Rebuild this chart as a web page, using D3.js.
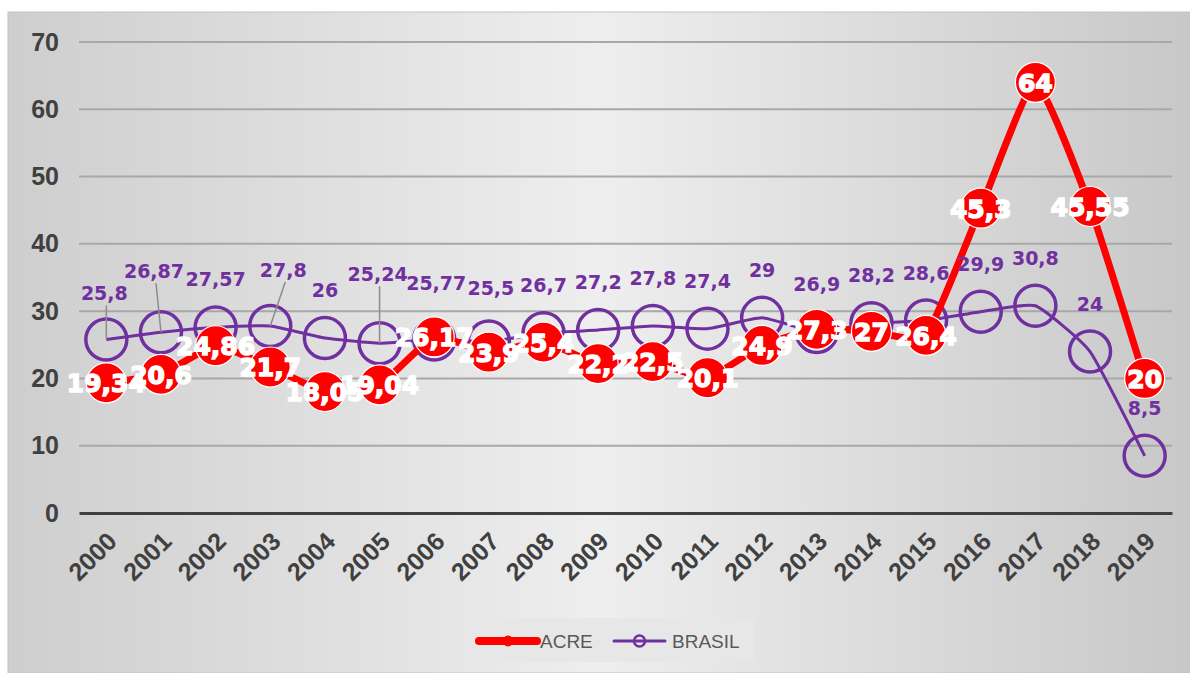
<!DOCTYPE html>
<html>
<head>
<meta charset="utf-8">
<script src="https://cdn.jsdelivr.net/npm/d3@7"></script>
<style>
  html, body { margin: 0; padding: 0; background: #ffffff; }
  svg { display: block; }
</style>
</head>
<body>
<svg id="chart" width="1190" height="673"></svg>
<script>
// Series data, 2000–2019
const years = ["2000","2001","2002","2003","2004","2005","2006","2007","2008","2009",
               "2010","2011","2012","2013","2014","2015","2016","2017","2018","2019"];
const acre = [19.34, 20.6, 24.86, 21.7, 18.05, 19.04, 26.17, 23.9, 25.4, 22.2,
              22.5, 20.1, 24.9, 27.3, 27, 26.4, 45.3, 64, 45.55, 20];
const brasil = [25.8, 26.87, 27.57, 27.8, 26, 25.24, 25.77, 25.5, 26.7, 27.2,
                27.8, 27.4, 29, 26.9, 28.2, 28.6, 29.9, 30.8, 24, 8.5];
const yTicks = [0, 10, 20, 30, 40, 50, 60, 70];
const seriesNames = ["ACRE", "BRASIL"];

// Label placement for the BRASIL series (offsets from the point, px); some use leader lines
const brasilLabelOffset = {
  0: { dx: -2, dy: -46, leader: true },
  1: { dx: -7, dy: -61, leader: true },
  3: { dx: 13, dy: -56, leader: true },
  5: { dx: -2, dy: -69, leader: true },
  6: { dx: 2, dy: -57 },
  7: { dx: 2, dy: -53 }
};

const svg = d3.select("#chart");
const W = 1190, H = 673;
const margin = { left: 79, right: 18, top: 42, bottom: 160 };
const plotRight = W - margin.right;
const plotBottom = H - margin.bottom;

const RED = "#ff0000";
const PURPLE = "#7030a0";

// Background gradient of the chart area
const defs = svg.append("defs");
const grad = defs.append("linearGradient").attr("id", "bg").attr("x1", "0").attr("x2", "1").attr("y1", "0").attr("y2", "0");
grad.append("stop").attr("offset", "0").attr("stop-color", "#cecece");
grad.append("stop").attr("offset", "0.5").attr("stop-color", "#eeeeee");
grad.append("stop").attr("offset", "1").attr("stop-color", "#c8c8c8");

svg.append("rect")
  .attr("x", 8).attr("y", 12).attr("width", W - 8).attr("height", H - 12)
  .attr("fill", "url(#bg)").attr("stroke", "#c4c4c4").attr("stroke-width", 1);

// Scales
const x = d3.scaleBand().domain(years).range([margin.left, plotRight]);
const cx = d => x(d) + x.bandwidth() / 2;
const y = d3.scaleLinear().domain([0, 70]).range([plotBottom, margin.top]);

// Gridlines
svg.append("g")
  .selectAll("line")
  .data(yTicks.filter(t => t > 0))
  .join("line")
  .attr("x1", margin.left).attr("x2", plotRight)
  .attr("y1", d => y(d)).attr("y2", d => y(d))
  .attr("stroke", "#a8a8a8").attr("stroke-width", 2);

// Y axis labels
const yAxis = d3.axisLeft(y).tickValues(yTicks).tickSize(0).tickPadding(20);
const yg = svg.append("g").attr("transform", `translate(${margin.left},0)`).call(yAxis);
yg.select(".domain").remove();
yg.selectAll("text")
  .attr("font-family", "'Liberation Sans', Arial, sans-serif")
  .attr("font-weight", "bold").attr("font-size", 25).attr("fill", "#404040");

// X axis line and rotated year labels
const xAxis = d3.axisBottom(x).tickSize(0).tickPadding(0);
const xg = svg.append("g").attr("transform", `translate(0,${plotBottom})`).call(xAxis);
xg.select(".domain").attr("stroke", "#404040").attr("stroke-width", 3);
xg.selectAll("text")
  .attr("font-family", "'Liberation Sans', Arial, sans-serif")
  .attr("font-weight", "bold").attr("font-size", 25).attr("fill", "#404040")
  .attr("text-anchor", "end").attr("dy", null)
  .attr("transform", "translate(12,30) rotate(-45)");

const line = d3.line().curve(d3.curveCardinal.tension(0.55));

// BRASIL series (line + hollow circle markers)
svg.append("path")
  .attr("d", line(years.map((yr, i) => [cx(yr), y(brasil[i])])))
  .attr("fill", "none").attr("stroke", PURPLE).attr("stroke-width", 3);
svg.append("g").selectAll("circle")
  .data(brasil)
  .join("circle")
  .attr("cx", (d, i) => cx(years[i])).attr("cy", d => y(d)).attr("r", 20.5)
  .attr("fill", "none").attr("stroke", PURPLE).attr("stroke-width", 3.5);

// ACRE series (thick line + filled markers)
svg.append("path")
  .attr("d", line(years.map((yr, i) => [cx(yr), y(acre[i])])))
  .attr("fill", "none").attr("stroke", RED).attr("stroke-width", 7).attr("stroke-linejoin", "round");
svg.append("g").selectAll("circle")
  .data(acre)
  .join("circle")
  .attr("cx", (d, i) => cx(years[i])).attr("cy", d => y(d)).attr("r", 20)
  .attr("fill", RED).attr("stroke", "#ffffff").attr("stroke-width", 1.2);

const fmt = v => String(v).replace(".", ",");

// BRASIL leader lines and labels
const bLabels = brasil.map((v, i) => {
  const o = brasilLabelOffset[i] || { dx: 0, dy: -48 };
  return { v, i, px: cx(years[i]), py: y(v), lx: cx(years[i]) + o.dx, ly: y(v) + o.dy, leader: !!o.leader };
});
svg.append("g").selectAll("line")
  .data(bLabels.filter(d => d.leader))
  .join("line")
  .attr("x1", d => d.lx + 2).attr("y1", d => d.ly + 12)
  .attr("x2", d => d.px).attr("y2", d => d.py)
  .attr("stroke", "#8c8c8c").attr("stroke-width", 1.5);
svg.append("g").selectAll("text")
  .data(bLabels)
  .join("text")
  .attr("x", d => d.lx).attr("y", d => d.ly)
  .attr("text-anchor", "middle").attr("dominant-baseline", "central")
  .attr("font-family", "'DejaVu Sans', Verdana, sans-serif")
  .attr("font-weight", "bold").attr("font-size", 19).attr("fill", PURPLE)
  .text(d => fmt(d.v));

// ACRE labels, centred on markers
svg.append("g").selectAll("text")
  .data(acre)
  .join("text")
  .attr("x", (d, i) => cx(years[i])).attr("y", d => y(d) + 1)
  .attr("text-anchor", "middle").attr("dominant-baseline", "central")
  .attr("font-family", "'DejaVu Sans', Verdana, sans-serif")
  .attr("font-weight", "bold").attr("font-size", 25).attr("fill", "#ffffff")
  .attr("stroke", "#ffffff").attr("stroke-width", 1.4)
  .text(d => fmt(d));

// Legend
const lg = svg.append("g");
lg.append("rect").attr("x", 458).attr("y", 618).attr("width", 297).attr("height", 44).attr("fill", "#e7e7e7");
const legendItems = [
  { name: seriesNames[0], x0: 479, x1: 537, color: RED, width: 8, filled: true, tx: 540 },
  { name: seriesNames[1], x0: 614, x1: 665, color: PURPLE, width: 3, filled: false, tx: 672 }
];
legendItems.forEach(it => {
  lg.append("line").attr("x1", it.x0).attr("x2", it.x1).attr("y1", 641).attr("y2", 641)
    .attr("stroke", it.color).attr("stroke-width", it.width).attr("stroke-linecap", "round");
  lg.append("circle").attr("cx", (it.x0 + it.x1) / 2).attr("cy", 641).attr("r", it.filled ? 5 : 5.5)
    .attr("fill", it.filled ? it.color : "none").attr("stroke", it.color).attr("stroke-width", it.filled ? 1 : 2.5);
  lg.append("text").attr("x", it.tx).attr("y", 641).attr("dominant-baseline", "central")
    .attr("font-family", "'Liberation Sans', Arial, sans-serif").attr("font-size", 19).attr("fill", "#595959")
    .text(it.name);
});
</script>
</body>
</html>
